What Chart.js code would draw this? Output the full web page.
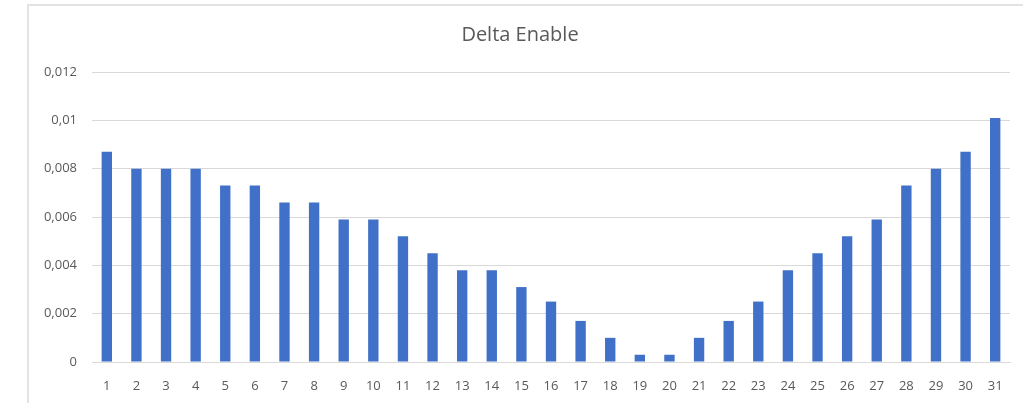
<!DOCTYPE html>
<html>
<head>
<meta charset="utf-8">
<script src="https://cdn.jsdelivr.net/npm/chart.js@4/dist/chart.umd.min.js"></script>
<style>
  body { margin: 0; background: #fff; }
  #wrap { position: relative; width: 1023px; height: 403px; }
  #frame { position: absolute; left: 27px; top: 4px; width: 996px; height: 399px;
           border-left: 2px solid #e3e3e3; border-top: 2px solid #e3e3e3; pointer-events: none; }
</style>
</head>
<body>
<div id="wrap">
  <canvas id="chart" width="1023" height="403"></canvas>
  <div id="frame"></div>
</div>
<script>
var labels = ['1','2','3','4','5','6','7','8','9','10','11','12','13','14','15','16',
              '17','18','19','20','21','22','23','24','25','26','27','28','29','30','31'];
var deltaEnable = [0.0087, 0.008, 0.008, 0.008, 0.0073, 0.0073, 0.0066, 0.0066, 0.0059, 0.0059,
                   0.0052, 0.0045, 0.0038, 0.0038, 0.0031, 0.0025, 0.0017, 0.001, 0.0003, 0.0003,
                   0.001, 0.0017, 0.0025, 0.0038, 0.0045, 0.0052, 0.0059, 0.0073, 0.008, 0.0087, 0.0101];
var chartTitle = 'Delta Enable';

var fontFamily = '"Open Sans", "Liberation Sans", sans-serif';

var config = {
    type: 'bar',
    data: {
        labels: labels,
        datasets: [{
            label: chartTitle,
            data: deltaEnable,
            backgroundColor: '#4070c8',
            barPercentage: 0.35,
            categoryPercentage: 1
        }]
    },
    options: {
        responsive: false,
        animation: false,
        layout: { padding: { left: 30, right: 13, top: 0, bottom: 0 } },
        plugins: {
            legend: { display: false },
            tooltip: { enabled: false },
            title: {
                display: true,
                text: chartTitle,
                color: '#595959',
                font: { family: fontFamily, size: 20, weight: 'normal' },
                padding: { top: 23, bottom: 25 }
            }
        },
        scales: {
            x: {
                grid: { display: false },
                border: { display: true, color: '#d9d9d9', width: 1 },
                ticks: {
                    color: '#595959',
                    font: { family: fontFamily, size: 13 },
                    padding: 8,
                    maxRotation: 0,
                    autoSkip: false
                },
                afterFit: function (scale) { scale.height = 41; }
            },
            y: {
                min: 0,
                max: 0.012,
                grid: { color: '#d9d9d9', drawTicks: false },
                border: { display: false },
                ticks: {
                    stepSize: 0.002,
                    color: '#595959',
                    font: { family: fontFamily, size: 13 },
                    padding: 15,
                    callback: function (value) {
                        return Number(value.toFixed(3)).toString().replace('.', ',');
                    }
                },
                afterFit: function (scale) { scale.width = 62; }
            }
        }
    }
};

var ctx = document.getElementById('chart');
window.myBar = new Chart(ctx, config);
</script>
</body>
</html>
